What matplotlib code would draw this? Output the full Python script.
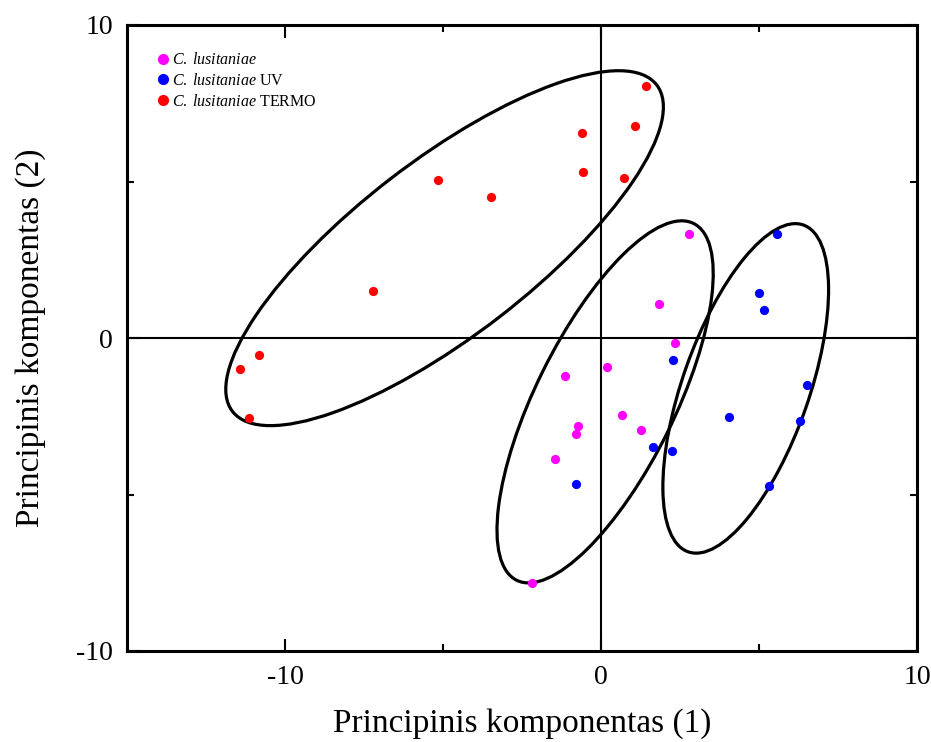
import matplotlib
matplotlib.use("Agg")
import matplotlib.pyplot as plt
from matplotlib.patches import Ellipse
from matplotlib.lines import Line2D

plt.rcParams['font.family'] = ['Liberation Serif', 'DejaVu Serif']
plt.rcParams['mathtext.fontset'] = 'custom'
plt.rcParams['mathtext.it'] = 'Liberation Serif:italic'
plt.rcParams['mathtext.rm'] = 'Liberation Serif'
plt.rcParams['axes.unicode_minus'] = False

# Data
base_x = [2.80, 1.84, 2.35, 0.19, -1.13, 0.65, 1.26, -0.73, -0.80, -1.47, -2.19]
base_y = [3.32, 1.09, -0.17, -0.93, -1.20, -2.45, -2.93, -2.81, -3.08, -3.86, -7.84]

uv_x = [5.57, 5.01, 5.17, 2.28, 6.52, 4.06, 6.30, 1.65, 2.24, -0.79, 5.33]
uv_y = [3.33, 1.44, 0.90, -0.69, -1.49, -2.52, -2.65, -3.48, -3.61, -4.66, -4.74]

termo_x = [1.42, 1.09, -0.59, -0.58, 0.72, -5.17, -3.47, -7.23, -10.81, -11.43, -11.14]
termo_y = [8.05, 6.78, 6.55, 5.29, 5.10, 5.06, 4.51, 1.51, -0.55, -1.00, -2.57]

# Ellipses: (center x, center y, full width, full height, angle deg)
ell_termo = (-4.95, 2.87, 17.0, 5.6, 37.9)
ell_base = (0.13, -2.04, 12.7, 4.4, 63.9)
ell_uv = (4.58, -1.61, 11.06, 4.0, 70.8)

fig = plt.figure(figsize=(9.31, 7.42), dpi=100)
ax = fig.add_axes([127/931, 1-651/742, (917-127)/931, (651-25)/742])

ax.set_xlim(-15, 10)
ax.set_ylim(-10, 10)

ax.axhline(0, color='black', lw=1.5, zorder=1)
ax.axvline(0, color='black', lw=1.5, zorder=1)

for (cx, cy, w, h, ang) in (ell_termo, ell_base, ell_uv):
    ax.add_patch(Ellipse((cx, cy), w, h, angle=ang, fill=False,
                         edgecolor='black', lw=2.3, zorder=2))

ms = 44
ax.scatter(base_x, base_y, s=ms, color='#ff00ff', zorder=3, linewidths=0)
ax.scatter(uv_x, uv_y, s=ms, color='#0000ff', zorder=3, linewidths=0)
ax.scatter(termo_x, termo_y, s=ms, color='#ff0000', zorder=3, linewidths=0)

ax.set_xticks([-10, 0, 10])
ax.set_yticks([-10, 0, 10])
ax.set_xticks([-5, 5], minor=True)
ax.set_yticks([-5, 5], minor=True)
ax.tick_params(which='major', direction='in', length=9, width=1.5,
               top=True, right=True, labelsize=20, pad=10)
ax.tick_params(which='minor', direction='in', length=5, width=1.5,
               top=True, right=True)
for sp in ax.spines.values():
    sp.set_linewidth(2.2)

ax.set_xlabel('Principinis komponentas (1)', fontsize=24, labelpad=13)
ax.set_ylabel('Principinis komponentas (2)', fontsize=24, labelpad=22)

handles = [
    Line2D([], [], marker='o', ls='', color='#ff00ff', markersize=7),
    Line2D([], [], marker='o', ls='', color='#0000ff', markersize=7),
    Line2D([], [], marker='o', ls='', color='#ff0000', markersize=7),
]
labels = [r'$\it{C.\;lusitaniae}$',
          r'$\it{C.\;lusitaniae}$ UV',
          r'$\it{C.\;lusitaniae}$ TERMO']
leg = ax.legend(handles, labels, loc='upper left', bbox_to_anchor=(0.019, 0.977),
                frameon=False, fontsize=11.5, handletextpad=0.1,
                handlelength=1.0, labelspacing=0.3, borderpad=0.3)

fig.savefig('out.png', dpi=100)
